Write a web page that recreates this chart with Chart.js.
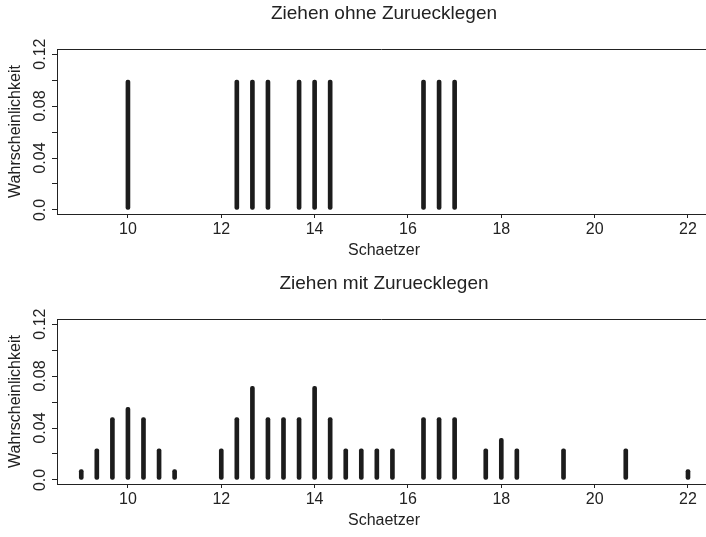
<!DOCTYPE html>
<html>
<head>
<meta charset="utf-8">
<script src="https://cdn.jsdelivr.net/npm/chart.js@4/dist/chart.umd.min.js"></script>
<style>
  html, body { margin: 0; padding: 0; background: #fff; }
  canvas { display: block; }
</style>
</head>
<body>
<canvas id="ohne" width="706" height="270"></canvas>
<canvas id="mit" width="706" height="267"></canvas>
<script>
// Schaetzer (sample means) and probabilities
const ohneX = [10, 12.333, 12.667, 13, 13.667, 14, 14.333, 16.333, 16.667, 17];
const ohneP = [0.1, 0.1, 0.1, 0.1, 0.1, 0.1, 0.1, 0.1, 0.1, 0.1];

const mitX = [9, 9.333, 9.667, 10, 10.333, 10.667, 11, 12, 12.333, 12.667, 13, 13.333,
  13.667, 14, 14.333, 14.667, 15, 15.333, 15.667, 16.333, 16.667, 17, 17.667, 18,
  18.333, 19.333, 20.667, 22];
const mitP = [0.008, 0.024, 0.048, 0.056, 0.048, 0.024, 0.008, 0.024, 0.048, 0.072, 0.048, 0.048,
  0.048, 0.072, 0.048, 0.024, 0.024, 0.024, 0.024, 0.048, 0.048, 0.048, 0.024, 0.032,
  0.024, 0.024, 0.024, 0.008];

const xTicks = [10, 12, 14, 16, 18, 20, 22];
const yTicks = [0, 0.02, 0.04, 0.06, 0.08, 0.10, 0.12];
const yLabels = [0, 0.04, 0.08, 0.12];

const ink = '#222';
const font = '"Liberation Sans", Arial, sans-serif';

// R-style text: title, x label, rotated y labels, top frame line
const rText = {
  id: 'rText',
  afterDraw(chart, args, opts) {
    const { ctx, chartArea: a, scales: { y } } = chart;
    ctx.save();
    ctx.strokeStyle = ink;
    ctx.lineWidth = 1;
    ctx.beginPath();
    ctx.moveTo(a.left, a.top + 0.5);
    ctx.lineTo(a.right, a.top + 0.5);
    ctx.stroke();

    ctx.fillStyle = ink;
    ctx.textAlign = 'center';
    ctx.textBaseline = 'middle';
    ctx.font = '19px ' + font;
    ctx.fillText(opts.title, 384, 14);
    ctx.font = '16px ' + font;
    ctx.fillText('Schaetzer', 384, 251);

    yLabels.forEach(v => {
      ctx.save();
      ctx.translate(41, y.getPixelForValue(v));
      ctx.rotate(-Math.PI / 2);
      ctx.fillText(v === 0 ? '0.0' : v.toFixed(2), 0, 0);
      ctx.restore();
    });

    ctx.save();
    ctx.translate(16, (a.top + a.bottom) / 2);
    ctx.rotate(-Math.PI / 2);
    ctx.fillText('Wahrscheinlichkeit', 0, 0);
    ctx.restore();
    ctx.restore();
  }
};

function makeChart(id, xs, ps, title, xHeight) {
  const ctx = document.getElementById(id).getContext('2d');
  return new Chart(ctx, {
    type: 'bar',
    data: {
      datasets: [{
        data: xs.map((x, i) => ({ x, y: ps[i] })),
        backgroundColor: '#1c1c1c',
        barThickness: 4,
        borderRadius: 2,
        borderSkipped: false,
        grouped: false
      }]
    },
    options: {
      responsive: false,
      animation: false,
      layout: { padding: { top: 49, left: 0, right: 0, bottom: 0 } },
      plugins: {
        legend: { display: false },
        tooltip: { enabled: false },
        rText: { title }
      },
      scales: {
        x: {
          type: 'linear',
          offset: false,
          min: 8.48,
          max: 22.386,
          afterBuildTicks: s => { s.ticks = xTicks.map(v => ({ value: v })); },
          afterFit: s => { s.height = xHeight; },
          ticks: { color: ink, font: { size: 16, family: font }, padding: 2, maxRotation: 0 },
          grid: { offset: false, drawOnChartArea: false, color: ink, tickLength: 4 },
          border: { display: true, color: ink }
        },
        y: {
          min: -0.0031,
          max: 0.1239,
          afterBuildTicks: s => { s.ticks = yTicks.map(v => ({ value: v })); },
          afterFit: s => { s.width = 57; },
          ticks: { display: false },
          grid: { drawOnChartArea: false, color: ink, tickLength: 5 },
          border: { display: true, color: ink }
        }
      }
    },
    plugins: [rText]
  });
}

makeChart('ohne', ohneX, ohneP, 'Ziehen ohne Zuruecklegen', 56);
makeChart('mit', mitX, mitP, 'Ziehen mit Zuruecklegen', 53);
</script>
</body>
</html>
